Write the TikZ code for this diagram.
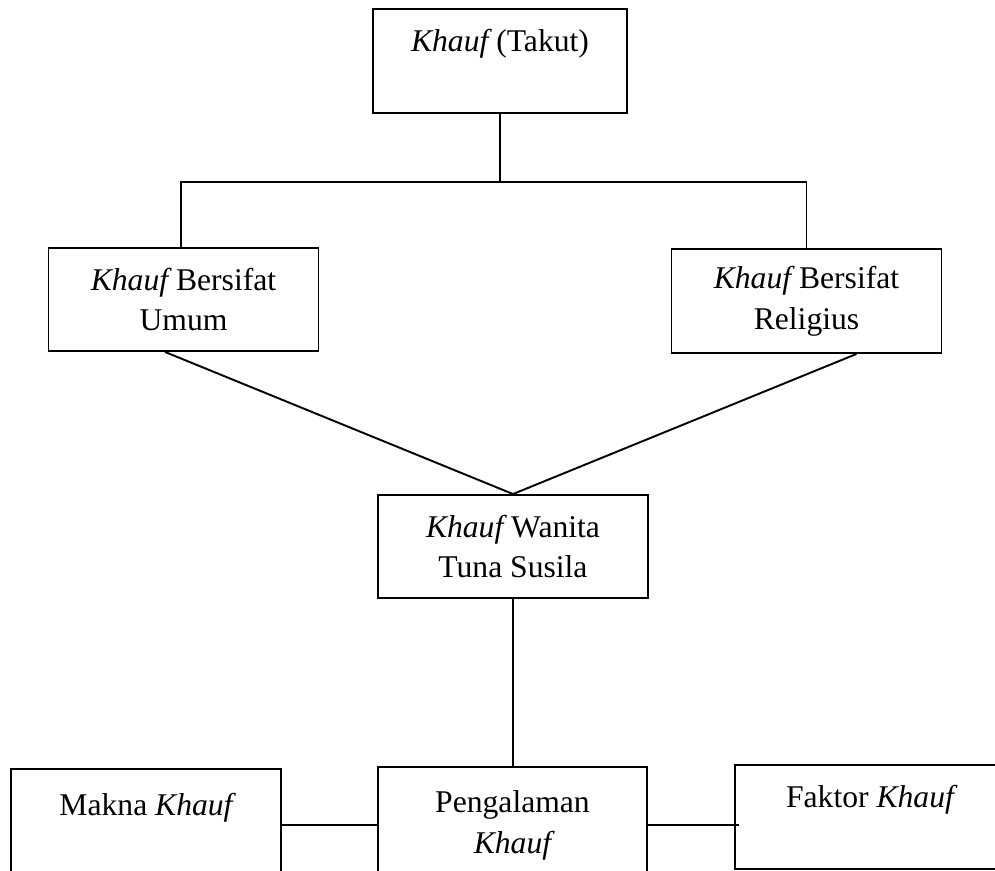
\documentclass[tikz,border=0pt]{standalone}
\usepackage{fontspec}
\setmainfont{Liberation Serif}
\usetikzlibrary{calc}

\newcommand{\khauf}{{\itshape Khauf}}

\tikzset{
  kotak/.style={draw, line width=1.1pt, minimum width=5.4cm, minimum height=2.08cm,
    inner sep=0pt, align=center, font=\fontsize{18}{23.3}\selectfont},
  garis/.style={line width=1.1pt}
}

\begin{document}
\begin{tikzpicture}[x=0.02cm, y=-0.02cm]
\useasboundingbox (0,0) rectangle (995,871);
\clip (0,0) rectangle (995,871);

% top box
\node[kotak, minimum width=5.08cm] (takut) at (500,61) {\khauf{} (Takut)\\~};

% second row
\node[kotak, minimum height=2.06cm] (umum) at (183.5,299.5) {\khauf{} Bersifat\\Umum};
\node[kotak] (religius) at (806.5,301) {\khauf{} Bersifat\\Religius};

% middle box
\node[kotak, minimum height=2.06cm] (wanita) at (513,546.5) {\khauf{} Wanita\\Tuna Susila};

% bottom row
\node[kotak, minimum height=2.24cm] (makna) at (146,825) {Makna \khauf\\~};
\node[kotak, minimum width=5.38cm, minimum height=2.32cm] (pengalaman) at (512.5,825) {Pengalaman\\\khauf};
\node[kotak] (faktor) at (870,817) {Faktor \khauf\\~};

% branch lines
\coordinate (cabang) at (500,182);
\draw[garis] (takut.south) -- (cabang);
\draw[garis] ([xshift=-0.05cm]umum.north) |- (cabang) -| (religius.north);

\draw[garis] ([xshift=-0.37cm]umum.south) -- (wanita.north);
\draw[garis] ([xshift=1cm]religius.south) -- (wanita.north);

\draw[garis] (wanita.south) -- (wanita.south |- pengalaman.north);
\draw[garis] (pengalaman.west) -- (pengalaman.west -| makna.east);
\draw[garis] (pengalaman.east) -- ([xshift=0.1cm]pengalaman.east -| faktor.west);
\end{tikzpicture}
\end{document}
